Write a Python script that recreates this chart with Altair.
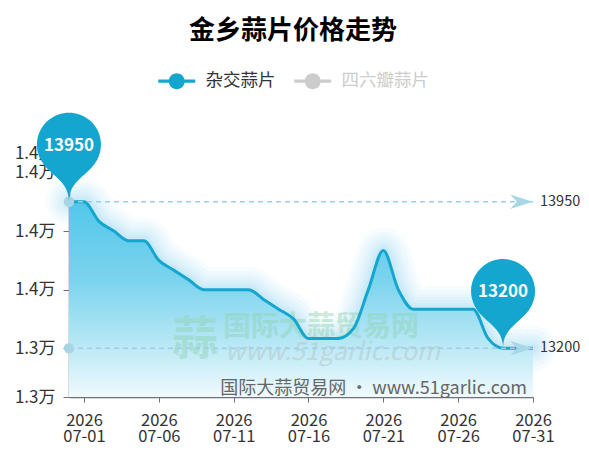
import altair as alt
import pandas as pd

FONT = "Noto Sans CJK SC"

# ---- data ----
dates = ["2026-06-30", "2026-07-01", "2026-07-02", "2026-07-03", "2026-07-04", "2026-07-05",
         "2026-07-06", "2026-07-07", "2026-07-08", "2026-07-09", "2026-07-10", "2026-07-11",
         "2026-07-12", "2026-07-13", "2026-07-14", "2026-07-15", "2026-07-16", "2026-07-17",
         "2026-07-18", "2026-07-19", "2026-07-20", "2026-07-21", "2026-07-22", "2026-07-23",
         "2026-07-24", "2026-07-25", "2026-07-26", "2026-07-27", "2026-07-28", "2026-07-29",
         "2026-07-30", "2026-07-31"]
prices = [13950, 13950, 13850, 13800, 13750, 13750,
          13650, 13600, 13550, 13500, 13500, 13500,
          13500, 13450, 13400, 13350, 13250, 13250,
          13250, 13300, 13500, 13700, 13500, 13400,
          13400, 13400, 13400, 13400, 13250, 13200,
          13200, 13200]
series_names = ["杂交蒜片", "四六瓣蒜片"]
series_colors = ["#14a6cf", "#cccccc"]
tick_dates = ["2026-07-01", "2026-07-06", "2026-07-11", "2026-07-16",
              "2026-07-21", "2026-07-26", "2026-07-31"]
y_ticks = [12950, 13200, 13500, 13800, 14100, 14200]
y_domain = [12950, 14200]
title_text = "金乡蒜片价格走势"
watermark_logo = "蒜"
watermark_cn = "国际大蒜贸易网"
watermark_url = "www.51garlic.com"
source_text = "国际大蒜贸易网 • www.51garlic.com"

df = pd.DataFrame({"date": dates, "price": prices, "series": series_names[0]})


def ms(d):
    return int(pd.Timestamp(d, tz="UTC").value // 1_000_000)


x_domain = [ms(dates[0]), ms(dates[-1])]
tick_vals = [ms(d) for d in tick_dates]

# mark lines (max / min) and mark points
ml = pd.DataFrame({
    "v": [df["price"].max(), df["price"].min()],
    "start": [dates[0], dates[0]],
    "end": [dates[-1], dates[-1]],
})
ml["lab"] = ml["v"].astype(int).astype(str)
i_max = df["price"].idxmax()
i_min = df["price"].idxmin()
pins = df.loc[[i_max, i_min]].copy()
pins["lab"] = pins["price"].astype(int).astype(str)

# ---- scales / axes ----
xscale = alt.Scale(type="utc", domain=x_domain, nice=False)
yscale = alt.Scale(domain=y_domain, zero=False, nice=False)
xaxis = alt.Axis(values=tick_vals, title=None, grid=False,
                 labelExpr="[utcFormat(datum.value, '%Y'), utcFormat(datum.value, '%m-%d')]",
                 labelFont=FONT, labelFontSize=16.5, labelColor="#333333",
                 labelBaseline="top", labelLineHeight=16.5, labelPadding=10,
                 labelFlush=False, labelOverlap=False,
                 domainColor="#6e7079", domainWidth=1.5, tickColor="#6e7079", tickSize=5)
yaxis = alt.Axis(values=y_ticks, title=None, grid=False,
                 labelExpr="format(datum.value / 10000, '.1f') + '万'",
                 labelFont=FONT, labelFontSize=17, labelColor="#333333",
                 labelPadding=8, labelOverlap=False, labelFlush=False,
                 domainColor="#6e7079", domainWidth=1.5, tickColor="#6e7079", tickSize=6)

X = alt.X("date:T", scale=xscale, axis=xaxis)
Y = alt.Y("price:Q", scale=yscale, axis=yaxis)

base = alt.Chart(df)

glow = [
    base.mark_line(interpolate="monotone", color="#3bbbe4", strokeWidth=w, opacity=0.045,
                   strokeCap="round", strokeJoin="round").encode(x=X, y=Y)
    for w in [46, 38, 30, 24, 18, 13, 9]
]

area = base.mark_area(
    interpolate="monotone",
    color=alt.Gradient(
        gradient="linear", x1=0, y1=0, x2=0, y2=1,
        stops=[alt.GradientStop(color="#52c7ea", offset=0),
               alt.GradientStop(color="#7bd3ee", offset=0.4),
               alt.GradientStop(color="#bce9f6", offset=0.75),
               alt.GradientStop(color="#f0fafd", offset=1)]),
).encode(x=X, y=Y, y2=alt.Y2(datum=y_domain[0]))


def txt(s, **kw):
    return alt.Chart(pd.DataFrame({"t": [s]})).mark_text(font=FONT, **kw).encode(text="t:N")


wm_logo = txt(watermark_logo, fontSize=46, fontWeight="bold", color="#8fd3b0", opacity=0.45,
              align="center", baseline="middle").encode(x=alt.value(126), y=alt.value(187))
wm_cn = txt(watermark_cn, fontSize=28, fontWeight="bold", color="#8fd3b0", opacity=0.45,
            align="left", baseline="middle").encode(x=alt.value(154), y=alt.value(175))
wm_url = txt(watermark_url, fontSize=25, fontStyle="italic", color="#b7c8c8", opacity=0.55,
             align="left", baseline="middle").encode(x=alt.value(156), y=alt.value(199))

line = base.mark_line(interpolate="monotone", color="#14a6cf", strokeWidth=3).encode(x=X, y=Y)

mlc = alt.Chart(ml)
ml_rule = mlc.mark_rule(color="#9ccfe2", strokeWidth=1.5, strokeDash=[5, 4]).encode(
    y=alt.Y("v:Q", scale=yscale, axis=yaxis))
ml_start = mlc.mark_point(shape="circle", filled=True, size=110, color="#a8d5e3", opacity=1).encode(
    x=alt.X("start:T", scale=xscale, axis=xaxis), y=alt.Y("v:Q", scale=yscale, axis=yaxis))
ml_arrow = mlc.mark_point(shape="M 0 0 L -1.9 -0.6 L -1.35 0 L -1.9 0.6 Z", filled=True,
                          size=576, color="#a8d8e8", opacity=1).encode(
    x=alt.X("end:T", scale=xscale, axis=xaxis), y=alt.Y("v:Q", scale=yscale, axis=yaxis))
ml_text = mlc.mark_text(font=FONT, fontSize=14.5, color="#333333", align="left",
                        baseline="middle", dx=7).encode(
    x=alt.X("end:T", scale=xscale, axis=xaxis), y=alt.Y("v:Q", scale=yscale, axis=yaxis),
    text="lab:N")

PIN = ("M -0.894 -1.3375 A 1 1 0 1 1 0.894 -1.3375 C 0.625 -0.8 0 -0.7 0 0 "
       "C 0 -0.7 -0.625 -0.8 -0.894 -1.3375 Z")
LEG = ("M -2.31 -0.19 L 2.31 -0.19 L 2.31 0.19 L -2.31 0.19 Z "
       "M 1 0 A 1 1 0 1 1 -1 0 A 1 1 0 1 1 1 0 Z")

pc = alt.Chart(pins)
pin = pc.mark_point(shape=PIN, filled=True, size=4096, opacity=1, strokeWidth=0).encode(
    x=X, y=Y,
    color=alt.Color("series:N",
                    scale=alt.Scale(domain=series_names, range=series_colors),
                    legend=alt.Legend(orient="none", legendX=99, legendY=-81,
                                      direction="horizontal", title=None,
                                      symbolType=LEG, symbolSize=256, symbolStrokeWidth=0,
                                      symbolOpacity=1, labelFont=FONT, labelFontSize=17.5,
                                      labelColor={"expr": "datum.label === '四六瓣蒜片' ? '#cccccc' : '#333333'"},
                                      labelOffset=20, columnPadding=18)))
pin_text = pc.mark_text(font=FONT, fontSize=17, fontWeight="bold", color="white",
                        align="center", baseline="middle", dy=-56).encode(x=X, y=Y, text="lab:N")

src = txt(source_text, fontSize=18, color="#666666", align="right", baseline="middle").encode(
    x=alt.value(458), y=alt.value(236))

chart = alt.layer(
    *glow, area, wm_logo, wm_cn, wm_url, line,
    ml_rule, ml_start, ml_arrow, ml_text, pin, pin_text, src,
).properties(
    width=464, height=244,
    autosize=alt.AutoSizeParams(type="none"),
    padding={"left": 61, "top": 145, "right": 48, "bottom": 49},
    title=alt.TitleParams(title_text, font=FONT, fontSize=26, fontWeight="bold", color="#000000",
                          anchor="middle", frame="group", dx=-8, offset=28),
).configure(background="white").configure_view(stroke=None)

chart.save("out.html", embed_options={"renderer": "svg", "actions": False})
